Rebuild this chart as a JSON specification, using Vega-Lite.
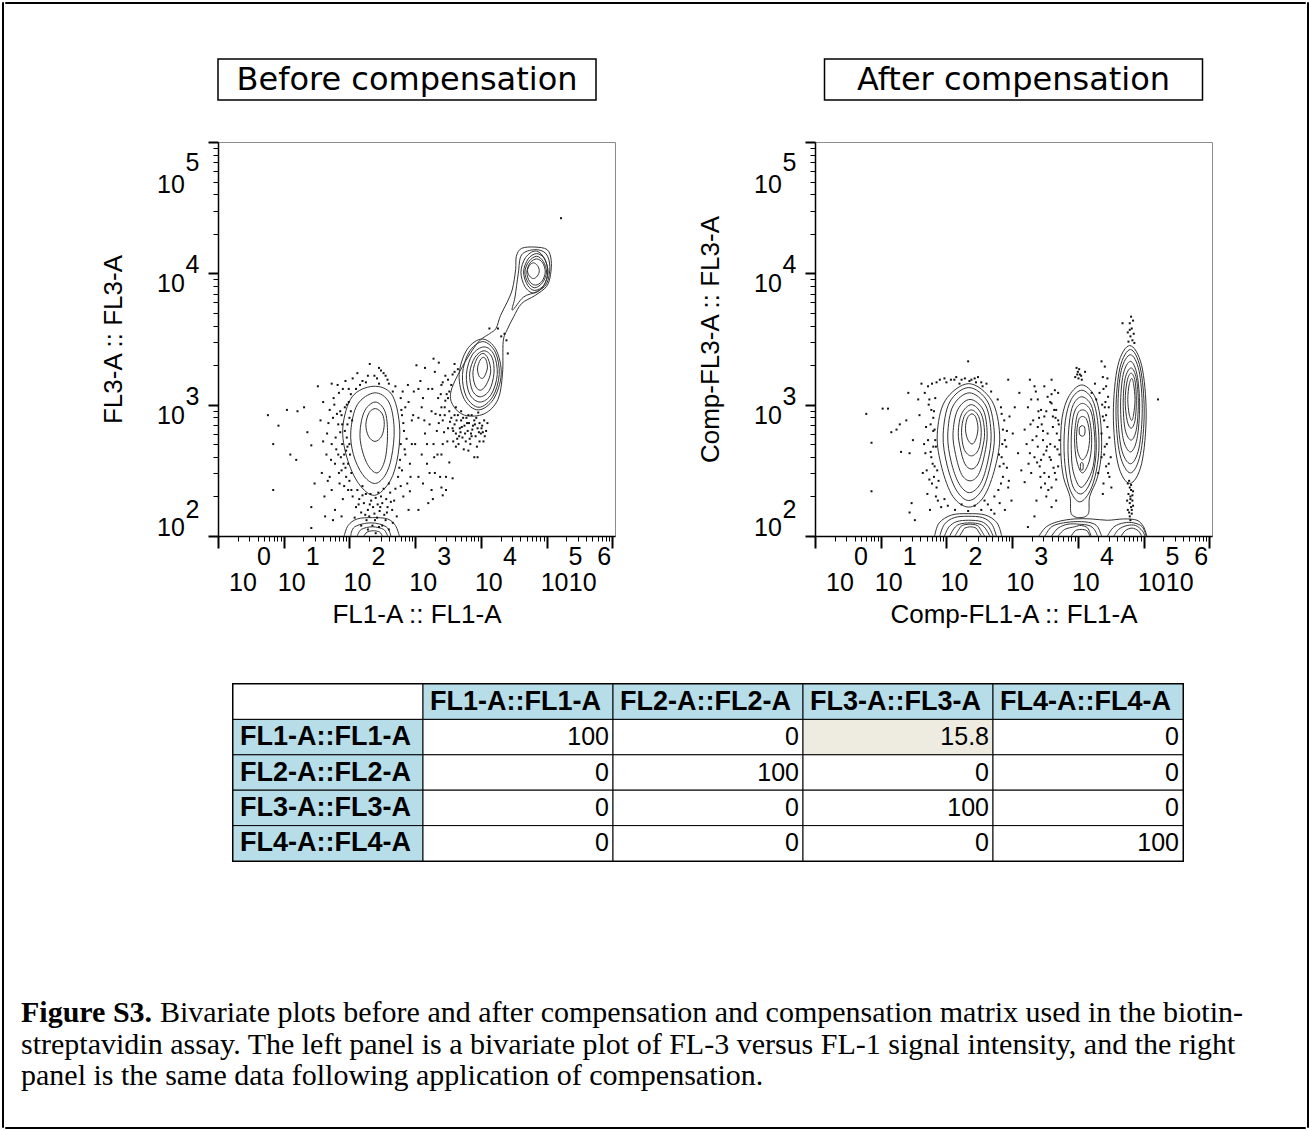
{
"$schema": "https://vega.github.io/schema/vega-lite/v6.json",
"background": "white",
"padding": {"left": 1, "top": 1, "right": 2, "bottom": 1},
"config": {"view": {"stroke": null}},
"datasets": {
"TX": [{"x":1,"y":100,"b":"10","e":"0"},{"x":10,"y":100,"b":"10","e":"1"},{"x":100,"y":100,"b":"10","e":"2"},{"x":1000,"y":100,"b":"10","e":"3"},{"x":10000,"y":100,"b":"10","e":"4"},{"x":100000,"y":100,"b":"10","e":"5"},{"x":1000000,"y":100,"b":"10","e":"6"}],
"TY": [{"x":1,"y":100,"b":"10","e":"2"},{"x":1,"y":1000,"b":"10","e":"3"},{"x":1,"y":10000,"b":"10","e":"4"},{"x":1,"y":100000,"b":"10","e":"5"}],
"LA": [
{"g":"a","o":0,"x":83.2,"y":100},{"g":"a","o":1,"x":95.5,"y":120.2},{"g":"a","o":2,"x":131.8,"y":134.9},{"g":"a","o":3,"x":223.9,"y":138},{"g":"a","o":4,"x":380.2,"y":134.9},{"g":"a","o":5,"x":501.2,"y":120.2},{"g":"a","o":6,"x":575.4,"y":100},
{"g":"b","o":0,"x":104.7,"y":100},{"g":"b","o":1,"x":120.2,"y":117.5},{"g":"b","o":2,"x":213.8,"y":125.9},{"g":"b","o":3,"x":363.1,"y":117.5},{"g":"b","o":4,"x":426.6,"y":100},
{"g":"c","o":0,"x":131.8,"y":100},{"g":"c","o":1,"x":151.4,"y":112.2},{"g":"c","o":2,"x":223.9,"y":117.5},{"g":"c","o":3,"x":331.1,"y":112.2},{"g":"c","o":4,"x":380.2,"y":100},
{"g":"d","o":0,"x":166,"y":100},{"g":"d","o":1,"x":186.2,"y":107.2},{"g":"d","o":2,"x":229.1,"y":109.6},{"g":"d","o":3,"x":288.4,"y":107.2},{"g":"d","o":4,"x":316.2,"y":100}
],
"LC": [
{"g":"1a","o":0,"x":229,"y":1380},{"g":"1a","o":1,"x":437,"y":1202},{"g":"1a","o":2,"x":575,"y":724},{"g":"1a","o":3,"x":550,"y":417},{"g":"1a","o":4,"x":417,"y":263},{"g":"1a","o":5,"x":240,"y":204},{"g":"1a","o":6,"x":138,"y":251},{"g":"1a","o":7,"x":91.2,"y":398},{"g":"1a","o":8,"x":79.4,"y":676},{"g":"1a","o":9,"x":110,"y":1148},
{"g":"1b","o":0,"x":240,"y":1230},{"g":"1b","o":1,"x":398,"y":1047},{"g":"1b","o":2,"x":479,"y":661},{"g":"1b","o":3,"x":437,"y":398},{"g":"1b","o":4,"x":347,"y":288},{"g":"1b","o":5,"x":240,"y":251},{"g":"1b","o":6,"x":158,"y":295},{"g":"1b","o":7,"x":115,"y":417},{"g":"1b","o":8,"x":105,"y":631},{"g":"1b","o":9,"x":132,"y":1000},
{"g":"1c","o":0,"x":245,"y":1047},{"g":"1c","o":1,"x":347,"y":891},{"g":"1c","o":2,"x":380,"y":603},{"g":"1c","o":3,"x":347,"y":380},{"g":"1c","o":4,"x":263,"y":302},{"g":"1c","o":5,"x":182,"y":363},{"g":"1c","o":6,"x":145,"y":562},{"g":"1c","o":7,"x":166,"y":871},
{"g":"1d","o":0,"x":251,"y":933},{"g":"1d","o":1,"x":316,"y":851},{"g":"1d","o":2,"x":339,"y":708},{"g":"1d","o":3,"x":309,"y":575},{"g":"1d","o":4,"x":245,"y":525},{"g":"1d","o":5,"x":195,"y":575},{"g":"1d","o":6,"x":178,"y":708},{"g":"1d","o":7,"x":200,"y":871},
{"g":"23","o":0,"x":5623,"y":832},{"g":"23","o":1,"x":3715,"y":1000},{"g":"23","o":2,"x":3548,"y":1288},{"g":"23","o":3,"x":5248,"y":1950},{"g":"23","o":4,"x":8913,"y":2951},{"g":"23","o":5,"x":13490,"y":3467},{"g":"23","o":6,"x":16980,"y":3802},{"g":"23","o":7,"x":19950,"y":4786},{"g":"23","o":8,"x":25120,"y":6026},{"g":"23","o":9,"x":30200,"y":7586},{"g":"23","o":10,"x":33880,"y":10720},{"g":"23","o":11,"x":34670,"y":13490},{"g":"23","o":12,"x":41690,"y":15490},{"g":"23","o":13,"x":66070,"y":15850},{"g":"23","o":14,"x":102300,"y":15140},{"g":"23","o":15,"x":117500,"y":12590},{"g":"23","o":16,"x":114800,"y":9772},{"g":"23","o":17,"x":100000,"y":7943},{"g":"23","o":18,"x":66070,"y":6761},{"g":"23","o":19,"x":41690,"y":5888},{"g":"23","o":20,"x":31620,"y":4677},{"g":"23","o":21,"x":25120,"y":3715},{"g":"23","o":22,"x":21880,"y":3020},{"g":"23","o":23,"x":21380,"y":1738},{"g":"23","o":24,"x":18200,"y":1096},{"g":"23","o":25,"x":11220,"y":851},
{"g":"2b","o":0,"x":10470,"y":3162},{"g":"2b","o":1,"x":16980,"y":2630},{"g":"2b","o":2,"x":20420,"y":1698},{"g":"2b","o":3,"x":15490,"y":1096},{"g":"2b","o":4,"x":9120,"y":912},{"g":"2b","o":5,"x":5623,"y":1096},{"g":"2b","o":6,"x":4677,"y":1698},{"g":"2b","o":7,"x":6166,"y":2630},
{"g":"2c","o":0,"x":10720,"y":3020},{"g":"2c","o":1,"x":16600,"y":2512},{"g":"2c","o":2,"x":19050,"y":1698},{"g":"2c","o":3,"x":15140,"y":1148},{"g":"2c","o":4,"x":9333,"y":955},{"g":"2c","o":5,"x":6026,"y":1148},{"g":"2c","o":6,"x":5248,"y":1698},{"g":"2c","o":7,"x":6607,"y":2512},
{"g":"2d","o":0,"x":11220,"y":2754},{"g":"2d","o":1,"x":15850,"y":2399},{"g":"2d","o":2,"x":17780,"y":1698},{"g":"2d","o":3,"x":14450,"y":1202},{"g":"2d","o":4,"x":9772,"y":1047},{"g":"2d","o":5,"x":6761,"y":1202},{"g":"2d","o":6,"x":6026,"y":1698},{"g":"2d","o":7,"x":7413,"y":2399},
{"g":"2e","o":0,"x":11220,"y":2570},{"g":"2e","o":1,"x":14790,"y":2291},{"g":"2e","o":2,"x":15850,"y":1738},{"g":"2e","o":3,"x":13490,"y":1288},{"g":"2e","o":4,"x":9772,"y":1148},{"g":"2e","o":5,"x":7413,"y":1288},{"g":"2e","o":6,"x":6761,"y":1738},{"g":"2e","o":7,"x":8128,"y":2291},
{"g":"2f","o":0,"x":10720,"y":2455},{"g":"2f","o":1,"x":12880,"y":2239},{"g":"2f","o":2,"x":14130,"y":1778},{"g":"2f","o":3,"x":12020,"y":1413},{"g":"2f","o":4,"x":9772,"y":1288},{"g":"2f","o":5,"x":8128,"y":1413},{"g":"2f","o":6,"x":7586,"y":1778},{"g":"2f","o":7,"x":8710,"y":2239},
{"g":"2g","o":0,"x":10960,"y":2291},{"g":"2g","o":1,"x":12020,"y":2188},{"g":"2g","o":2,"x":12590,"y":1905},{"g":"2g","o":3,"x":11480,"y":1660},{"g":"2g","o":4,"x":10470,"y":1585},{"g":"2g","o":5,"x":9333,"y":1660},{"g":"2g","o":6,"x":8913,"y":1905},{"g":"2g","o":7,"x":9772,"y":2188},
{"g":"3b","o":0,"x":66070,"y":15140},{"g":"3b","o":1,"x":97720,"y":14130},{"g":"3b","o":2,"x":112200,"y":11220},{"g":"3b","o":3,"x":100000,"y":8318},{"g":"3b","o":4,"x":70790,"y":7244},{"g":"3b","o":5,"x":44670,"y":6607},{"g":"3b","o":6,"x":30200,"y":5248},{"g":"3b","o":7,"x":33110,"y":6607},{"g":"3b","o":8,"x":37150,"y":10000},{"g":"3b","o":9,"x":41690,"y":13800},
{"g":"3c","o":0,"x":67610,"y":14790},{"g":"3c","o":1,"x":91200,"y":13180},{"g":"3c","o":2,"x":104700,"y":10230},{"g":"3c","o":3,"x":89130,"y":7943},{"g":"3c","o":4,"x":63100,"y":7079},{"g":"3c","o":5,"x":46770,"y":7943},{"g":"3c","o":6,"x":40740,"y":10230},{"g":"3c","o":7,"x":47860,"y":13180},
{"g":"3d","o":0,"x":70790,"y":14130},{"g":"3d","o":1,"x":93330,"y":12880},{"g":"3d","o":2,"x":104700,"y":10230},{"g":"3d","o":3,"x":91200,"y":8128},{"g":"3d","o":4,"x":66070,"y":7413},{"g":"3d","o":5,"x":51290,"y":8128},{"g":"3d","o":6,"x":44670,"y":10230},{"g":"3d","o":7,"x":52480,"y":12880},
{"g":"3e","o":0,"x":70790,"y":13490},{"g":"3e","o":1,"x":89130,"y":12300},{"g":"3e","o":2,"x":100000,"y":10230},{"g":"3e","o":3,"x":87100,"y":8511},{"g":"3e","o":4,"x":66070,"y":7762},{"g":"3e","o":5,"x":52480,"y":8511},{"g":"3e","o":6,"x":46770,"y":10230},{"g":"3e","o":7,"x":53700,"y":12300},
{"g":"3f","o":0,"x":70790,"y":12880},{"g":"3f","o":1,"x":87100,"y":12020},{"g":"3f","o":2,"x":95500,"y":10230},{"g":"3f","o":3,"x":85110,"y":8710},{"g":"3f","o":4,"x":67610,"y":8128},{"g":"3f","o":5,"x":54950,"y":8710},{"g":"3f","o":6,"x":50120,"y":10230},{"g":"3f","o":7,"x":56230,"y":12020},
{"g":"3g","o":0,"x":63100,"y":12020},{"g":"3g","o":1,"x":72440,"y":11480},{"g":"3g","o":2,"x":77620,"y":10470},{"g":"3g","o":3,"x":72440,"y":9550},{"g":"3g","o":4,"x":63100,"y":9120},{"g":"3g","o":5,"x":54950,"y":9550},{"g":"3g","o":6,"x":51290,"y":10470},{"g":"3g","o":7,"x":54950,"y":11480}
],
"LD": [
{"x":5.75,"y":832},{"x":8.32,"y":692},{"x":6.92,"y":501},{"x":6.92,"y":224},{"x":11.2,"y":912},{"x":16.2,"y":891},{"x":15.5,"y":380},{"x":26.3,"y":166},{"x":29.5,"y":251},{"x":33.1,"y":1380},{"x":22.9,"y":617},{"x":26.3,"y":490},{"x":20.4,"y":955},{"x":26.3,"y":115},{"x":12.6,"y":417},
{"x":42.7,"y":141},{"x":53.7,"y":1445},{"x":47.9,"y":724},{"x":53.7,"y":501},{"x":60.3,"y":355},{"x":53.7,"y":224},{"x":69.2,"y":1230},{"x":64.6,"y":851},{"x":72.4,"y":617},{"x":39.8,"y":1047},{"x":44.7,"y":417},{"x":38,"y":302},{"x":41.7,"y":200},{"x":50.1,"y":912},{"x":57.5,"y":1122},{"x":63.1,"y":457},{"x":75.9,"y":316},{"x":70.8,"y":251},{"x":79.4,"y":191},{"x":45.7,"y":603},{"x":79.4,"y":1318},{"x":85.1,"y":955},{"x":83.2,"y":417},{"x":60.3,"y":158},{"x":75.9,"y":141},{"x":36.3,"y":759},{"x":50.1,"y":282},{"x":67.6,"y":708},{"x":89.1,"y":282},{"x":39.8,"y":525},{"x":56.2,"y":132},{"x":66.1,"y":1413},{"x":87.1,"y":1514},{"x":75.9,"y":832},{"x":95.5,"y":224},
{"x":56.2,"y":794},{"x":61.7,"y":562},{"x":67.6,"y":417},{"x":72.4,"y":891},{"x":77.6,"y":501},{"x":81.3,"y":355},{"x":58.9,"y":1000},{"x":69.2,"y":302},{"x":52.5,"y":380},{"x":46.8,"y":263},
{"x":87.1,"y":331},{"x":93.3,"y":479},{"x":85.1,"y":631},{"x":100,"y":794},{"x":91.2,"y":1000},{"x":83.2,"y":240},{"x":107,"y":224},{"x":74.1,"y":398},{"x":77.6,"y":708},{"x":97.7,"y":1318},
{"x":112,"y":1585},{"x":132,"y":1738},{"x":158,"y":1514},{"x":191,"y":1660},{"x":204,"y":2042},{"x":263,"y":1585},{"x":302,"y":1820},{"x":355,"y":1660},{"x":398,"y":1445},{"x":282,"y":1905},{"x":331,"y":1738},{"x":145,"y":1413},{"x":501,"y":1380},{"x":603,"y":1122},{"x":631,"y":832},{"x":676,"y":631},{"x":603,"y":501},{"x":708,"y":417},{"x":631,"y":316},{"x":759,"y":251},{"x":661,"y":200},{"x":794,"y":158},{"x":891,"y":759},{"x":955,"y":1259},{"x":832,"y":355},{"x":589,"y":380},{"x":708,"y":955},{"x":550,"y":282},{"x":891,"y":501},
{"x":178,"y":1479},{"x":240,"y":1660},{"x":380,"y":1549},{"x":457,"y":1259},{"x":126,"y":1318},{"x":282,"y":1445},
{"x":661,"y":724},{"x":741,"y":550},{"x":646,"y":1259},{"x":794,"y":1047},{"x":603,"y":240},{"x":832,"y":219},
{"x":617,"y":912},{"x":692,"y":457},{"x":575,"y":331},{"x":851,"y":282},{"x":933,"y":832},{"x":776,"y":1413},
{"x":112,"y":200},{"x":126,"y":166},{"x":141,"y":191},{"x":151,"y":151},{"x":166,"y":178},{"x":178,"y":209},{"x":191,"y":158},{"x":200,"y":141},{"x":214,"y":186},{"x":229,"y":166},{"x":240,"y":148},{"x":251,"y":195},{"x":269,"y":174},{"x":288,"y":155},{"x":302,"y":200},{"x":316,"y":178},{"x":339,"y":145},{"x":363,"y":191},{"x":380,"y":166},{"x":417,"y":214},{"x":447,"y":158},{"x":479,"y":186},{"x":501,"y":229},{"x":132,"y":224},{"x":158,"y":240},{"x":398,"y":251},{"x":209,"y":209},{"x":263,"y":138},{"x":182,"y":132},{"x":355,"y":132},{"x":120,"y":138},{"x":525,"y":141},{"x":224,"y":120},{"x":282,"y":117},{"x":457,"y":126},
{"x":138,"y":174},{"x":174,"y":145},{"x":204,"y":174},{"x":245,"y":132},{"x":295,"y":166},{"x":372,"y":151},{"x":427,"y":182},{"x":158,"y":204},{"x":275,"y":214},{"x":331,"y":229},
{"x":191,"y":112},{"x":316,"y":120},{"x":251,"y":105},{"x":398,"y":112},{"x":151,"y":120},
{"x":95.5,"y":355},{"x":100,"y":501},{"x":93.3,"y":708},{"x":105,"y":891},{"x":102,"y":417},{"x":97.7,"y":1047},{"x":107,"y":302},{"x":91.2,"y":562},{"x":110,"y":759},{"x":100,"y":263},{"x":89.1,"y":447},{"x":105,"y":1202},
{"x":1047,"y":1995},{"x":1202,"y":1514},{"x":1318,"y":1122},{"x":1122,"y":794},{"x":1413,"y":603},{"x":1259,"y":417},{"x":1585,"y":1318},{"x":1778,"y":891},{"x":1660,"y":708},{"x":1905,"y":501},{"x":1995,"y":1778},{"x":2239,"y":1122},{"x":2399,"y":832},{"x":2138,"y":631},{"x":2512,"y":1413},{"x":2818,"y":955},{"x":2630,"y":759},{"x":3020,"y":1202},{"x":3162,"y":661},{"x":3311,"y":891},{"x":2884,"y":1660},{"x":1514,"y":355},{"x":1995,"y":302},{"x":1318,"y":251},{"x":1778,"y":224},{"x":2399,"y":282},{"x":1122,"y":158},{"x":1585,"y":178},{"x":2512,"y":417},{"x":1413,"y":1905},{"x":1905,"y":2239},{"x":2291,"y":2089},{"x":1000,"y":501},{"x":1122,"y":282},
{"x":1259,"y":955},{"x":1514,"y":501},{"x":1820,"y":1318},{"x":2188,"y":417},{"x":1660,"y":302},{"x":1380,"y":759},{"x":2630,"y":501},{"x":1122,"y":1318},
{"x":3548,"y":794},{"x":3981,"y":708},{"x":4169,"y":603},{"x":4467,"y":832},{"x":4786,"y":661},{"x":5012,"y":759},{"x":5248,"y":562},{"x":5623,"y":692},{"x":6026,"y":794},{"x":6310,"y":631},{"x":6607,"y":724},{"x":7079,"y":603},{"x":7586,"y":692},{"x":7943,"y":759},{"x":8318,"y":575},{"x":8913,"y":661},{"x":9550,"y":724},{"x":10000,"y":603},{"x":10470,"y":692},{"x":11220,"y":759},{"x":12020,"y":631},{"x":3802,"y":525},{"x":4571,"y":501},{"x":5495,"y":457},{"x":6918,"y":501},{"x":8710,"y":479},{"x":10960,"y":525},{"x":5012,"y":891},{"x":7244,"y":832},{"x":9120,"y":871},{"x":12590,"y":724},{"x":4169,"y":955},{"x":3162,"y":1122},{"x":3548,"y":1413},{"x":3981,"y":1778},
{"x":3802,"y":631},{"x":4266,"y":759},{"x":4677,"y":575},{"x":5129,"y":676},{"x":5754,"y":603},{"x":6166,"y":724},{"x":6761,"y":550},{"x":7413,"y":646},{"x":8128,"y":708},{"x":9333,"y":617},{"x":10230,"y":661},{"x":11480,"y":575},{"x":3388,"y":741},{"x":2818,"y":832},{"x":2512,"y":955},{"x":2291,"y":724},{"x":2042,"y":851},{"x":2754,"y":617},{"x":3090,"y":525},{"x":4169,"y":479},{"x":6457,"y":447},{"x":9550,"y":525},{"x":3311,"y":1259},{"x":2884,"y":1072},{"x":2455,"y":1202},
{"x":3981,"y":832},{"x":4898,"y":617},{"x":5888,"y":525},{"x":7244,"y":575},{"x":8511,"y":794},{"x":10720,"y":617},{"x":3715,"y":661},{"x":5370,"y":794},{"x":6457,"y":832},{"x":4365,"y":550},
{"x":1950,"y":398},{"x":7943,"y":398},{"x":8913,"y":398},{"x":2951,"y":282},{"x":3715,"y":275},{"x":3311,"y":363},{"x":2512,"y":234},{"x":2630,"y":204},{"x":1862,"y":191},{"x":2951,"y":224},{"x":13490,"y":3802},{"x":22910,"y":3467},{"x":24550,"y":3090},{"x":25700,"y":2455},{"x":20420,"y":3311},{"x":18200,"y":3802},{"x":3981,"y":2042},{"x":4467,"y":1862},{"x":3162,"y":1549},{"x":3715,"y":1698},{"x":2630,"y":1479},{"x":166000,"y":26300}
],
"RA": [
{"g":"0a","o":0,"x":66.07,"y":100},{"g":"0a","o":1,"x":77.62,"y":125.9},{"g":"0a","o":2,"x":120.2,"y":144.5},{"g":"0a","o":3,"x":213.8,"y":147.9},{"g":"0a","o":4,"x":389,"y":144.5},{"g":"0a","o":5,"x":588.8,"y":125.9},{"g":"0a","o":6,"x":691.8,"y":100},
{"g":"0b","o":0,"x":79.43,"y":100},{"g":"0b","o":1,"x":93.33,"y":123},{"g":"0b","o":2,"x":131.8,"y":138},{"g":"0b","o":3,"x":213.8,"y":141.3},{"g":"0b","o":4,"x":354.8,"y":138},{"g":"0b","o":5,"x":489.8,"y":123},{"g":"0b","o":6,"x":575.4,"y":100},
{"g":"0c","o":0,"x":93.33,"y":100},{"g":"0c","o":1,"x":109.6,"y":117.5},{"g":"0c","o":2,"x":144.5,"y":128.8},{"g":"0c","o":3,"x":218.8,"y":131.8},{"g":"0c","o":4,"x":338.8,"y":128.8},{"g":"0c","o":5,"x":436.5,"y":117.5},{"g":"0c","o":6,"x":512.9,"y":100},
{"g":"0d","o":0,"x":112.2,"y":100},{"g":"0d","o":1,"x":131.8,"y":114.8},{"g":"0d","o":2,"x":158.5,"y":123},{"g":"0d","o":3,"x":229.1,"y":125.9},{"g":"0d","o":4,"x":323.6,"y":123},{"g":"0d","o":5,"x":389,"y":114.8},{"g":"0d","o":6,"x":457.1,"y":100},
{"g":"0e","o":0,"x":134.9,"y":100},{"g":"0e","o":1,"x":154.9,"y":112.2},{"g":"0e","o":2,"x":173.8,"y":120.2},{"g":"0e","o":3,"x":229.1,"y":123},{"g":"0e","o":4,"x":295.1,"y":120.2},{"g":"0e","o":5,"x":331.1,"y":112.2},{"g":"0e","o":6,"x":380.2,"y":100},
{"g":"0f","o":0,"x":158.5,"y":100},{"g":"0f","o":1,"x":177.8,"y":109.6},{"g":"0f","o":2,"x":190.5,"y":114.8},{"g":"0f","o":3,"x":234.4,"y":117.5},{"g":"0f","o":4,"x":281.8,"y":114.8},{"g":"0f","o":5,"x":302,"y":109.6},{"g":"0f","o":6,"x":338.8,"y":100},
{"g":"Ba","o":0,"x":2570,"y":100},{"g":"Ba","o":1,"x":3311,"y":117.5},{"g":"Ba","o":2,"x":5012,"y":128.8},{"g":"Ba","o":3,"x":8913,"y":134.9},{"g":"Ba","o":4,"x":15850,"y":134.9},{"g":"Ba","o":5,"x":28180,"y":131.8},{"g":"Ba","o":6,"x":50120,"y":134.9},{"g":"Ba","o":7,"x":79430,"y":131.8},{"g":"Ba","o":8,"x":100000,"y":117.5},{"g":"Ba","o":9,"x":112200,"y":100},
{"g":"Bb","o":0,"x":3162,"y":100},{"g":"Bb","o":1,"x":3981,"y":117.5},{"g":"Bb","o":2,"x":6026,"y":125.9},{"g":"Bb","o":3,"x":10000,"y":128.8},{"g":"Bb","o":4,"x":15850,"y":125.9},{"g":"Bb","o":5,"x":19950,"y":117.5},{"g":"Bb","o":6,"x":22910,"y":100},
{"g":"Bc","o":0,"x":3981,"y":100},{"g":"Bc","o":1,"x":5012,"y":114.8},{"g":"Bc","o":2,"x":7079,"y":123},{"g":"Bc","o":3,"x":10470,"y":123},{"g":"Bc","o":4,"x":14790,"y":120.2},{"g":"Bc","o":5,"x":17780,"y":112.2},{"g":"Bc","o":6,"x":19950,"y":100},
{"g":"Bd","o":0,"x":5012,"y":100},{"g":"Bd","o":1,"x":6310,"y":112.2},{"g":"Bd","o":2,"x":8913,"y":117.5},{"g":"Bd","o":3,"x":11220,"y":120.2},{"g":"Bd","o":4,"x":14130,"y":114.8},{"g":"Bd","o":5,"x":15850,"y":100},
{"g":"Be","o":0,"x":7943,"y":100},{"g":"Be","o":1,"x":9120,"y":109.6},{"g":"Be","o":2,"x":11220,"y":112.2},{"g":"Be","o":3,"x":13800,"y":109.6},{"g":"Be","o":4,"x":15140,"y":100},
{"g":"Bf","o":0,"x":28180,"y":100},{"g":"Bf","o":1,"x":35480,"y":117.5},{"g":"Bf","o":2,"x":50120,"y":125.9},{"g":"Bf","o":3,"x":70790,"y":125.9},{"g":"Bf","o":4,"x":95500,"y":117.5},{"g":"Bf","o":5,"x":109600,"y":100},
{"g":"Bg","o":0,"x":35480,"y":100},{"g":"Bg","o":1,"x":41690,"y":112.2},{"g":"Bg","o":2,"x":56230,"y":120.2},{"g":"Bg","o":3,"x":75860,"y":120.2},{"g":"Bg","o":4,"x":95500,"y":109.6},{"g":"Bg","o":5,"x":104700,"y":100},
{"g":"Bh","o":0,"x":45710,"y":100},{"g":"Bh","o":1,"x":52480,"y":109.6},{"g":"Bh","o":2,"x":66070,"y":114.8},{"g":"Bh","o":3,"x":83180,"y":109.6},{"g":"Bh","o":4,"x":93330,"y":100}
],
"RC": [
{"g":"1a","o":0,"x":218.8,"y":1445},{"g":"1a","o":1,"x":489.8,"y":1072},{"g":"1a","o":2,"x":645.7,"y":588.8},{"g":"1a","o":3,"x":549.5,"y":331.1},{"g":"1a","o":4,"x":371.5,"y":199.5},{"g":"1a","o":5,"x":218.8,"y":166},{"g":"1a","o":6,"x":125.9,"y":199.5},{"g":"1a","o":7,"x":85.1,"y":331.1},{"g":"1a","o":8,"x":72.4,"y":588.8},{"g":"1a","o":9,"x":95.5,"y":1072},
{"g":"1b","o":0,"x":218.8,"y":1349},{"g":"1b","o":1,"x":426.6,"y":1047},{"g":"1b","o":2,"x":537,"y":588.8},{"g":"1b","o":3,"x":467.7,"y":346.7},{"g":"1b","o":4,"x":346.7,"y":223.9},{"g":"1b","o":5,"x":218.8,"y":186.2},{"g":"1b","o":6,"x":141.3,"y":223.9},{"g":"1b","o":7,"x":102.3,"y":346.7},{"g":"1b","o":8,"x":89.1,"y":588.8},{"g":"1b","o":9,"x":112.2,"y":1047},
{"g":"1c","o":0,"x":223.9,"y":1230},{"g":"1c","o":1,"x":398.1,"y":977.2},{"g":"1c","o":2,"x":478.6,"y":588.8},{"g":"1c","o":3,"x":426.6,"y":371.5},{"g":"1c","o":4,"x":331.1,"y":251.2},{"g":"1c","o":5,"x":223.9,"y":213.8},{"g":"1c","o":6,"x":154.9,"y":251.2},{"g":"1c","o":7,"x":117.5,"y":371.5},{"g":"1c","o":8,"x":104.7,"y":588.8},{"g":"1c","o":9,"x":125.9,"y":977.2},
{"g":"1d","o":0,"x":229.1,"y":1096},{"g":"1d","o":1,"x":363.1,"y":912},{"g":"1d","o":2,"x":416.9,"y":602.6},{"g":"1d","o":3,"x":380.2,"y":416.9},{"g":"1d","o":4,"x":309,"y":295.1},{"g":"1d","o":5,"x":229.1,"y":263},{"g":"1d","o":6,"x":169.8,"y":295.1},{"g":"1d","o":7,"x":138,"y":416.9},{"g":"1d","o":8,"x":125.9,"y":602.6},{"g":"1d","o":9,"x":147.9,"y":912},
{"g":"1e","o":0,"x":239.9,"y":1000},{"g":"1e","o":1,"x":338.8,"y":851.1},{"g":"1e","o":2,"x":380.2,"y":616.6},{"g":"1e","o":3,"x":354.8,"y":467.7},{"g":"1e","o":4,"x":302,"y":354.8},{"g":"1e","o":5,"x":239.9,"y":323.6},{"g":"1e","o":6,"x":190.5,"y":354.8},{"g":"1e","o":7,"x":162.2,"y":467.7},{"g":"1e","o":8,"x":151.4,"y":616.6},{"g":"1e","o":9,"x":169.8,"y":851.1},
{"g":"1f","o":0,"x":239.9,"y":912},{"g":"1f","o":1,"x":309,"y":812.8},{"g":"1f","o":2,"x":338.8,"y":616.6},{"g":"1f","o":3,"x":309,"y":457.1},{"g":"1f","o":4,"x":239.9,"y":407.4},{"g":"1f","o":5,"x":186.2,"y":457.1},{"g":"1f","o":6,"x":169.8,"y":616.6},{"g":"1f","o":7,"x":186.2,"y":812.8},
{"g":"1g","o":0,"x":245.5,"y":851.1},{"g":"1g","o":1,"x":281.8,"y":794.3},{"g":"1g","o":2,"x":302,"y":660.7},{"g":"1g","o":3,"x":281.8,"y":549.5},{"g":"1g","o":4,"x":245.5,"y":501.2},{"g":"1g","o":5,"x":208.9,"y":549.5},{"g":"1g","o":6,"x":195,"y":660.7},{"g":"1g","o":7,"x":208.9,"y":794.3},
{"g":"2a","o":0,"x":11480,"y":1413},{"g":"2a","o":1,"x":17780,"y":1175},{"g":"2a","o":2,"x":21880,"y":794.3},{"g":"2a","o":3,"x":22910,"y":446.7},{"g":"2a","o":4,"x":19950,"y":281.8},{"g":"2a","o":5,"x":15140,"y":199.5},{"g":"2a","o":6,"x":14450,"y":147.9},{"g":"2a","o":7,"x":10720,"y":138},{"g":"2a","o":8,"x":7943,"y":147.9},{"g":"2a","o":9,"x":7586,"y":199.5},{"g":"2a","o":10,"x":6026,"y":281.8},{"g":"2a","o":11,"x":5495,"y":446.7},{"g":"2a","o":12,"x":5754,"y":794.3},{"g":"2a","o":13,"x":7413,"y":1175},
{"g":"2b","o":0,"x":11480,"y":1288},{"g":"2b","o":1,"x":16600,"y":1096},{"g":"2b","o":2,"x":19950,"y":758.6},{"g":"2b","o":3,"x":20890,"y":446.7},{"g":"2b","o":4,"x":18200,"y":281.8},{"g":"2b","o":5,"x":14450,"y":208.9},{"g":"2b","o":6,"x":10720,"y":182},{"g":"2b","o":7,"x":8128,"y":208.9},{"g":"2b","o":8,"x":6761,"y":281.8},{"g":"2b","o":9,"x":6166,"y":446.7},{"g":"2b","o":10,"x":6457,"y":758.6},{"g":"2b","o":11,"x":7943,"y":1096},
{"g":"2c","o":0,"x":11480,"y":1148},{"g":"2c","o":1,"x":15850,"y":1000},{"g":"2c","o":2,"x":18200,"y":724.4},{"g":"2c","o":3,"x":19050,"y":446.7},{"g":"2c","o":4,"x":16980,"y":295.1},{"g":"2c","o":5,"x":13800,"y":229.1},{"g":"2c","o":6,"x":10960,"y":208.9},{"g":"2c","o":7,"x":8710,"y":229.1},{"g":"2c","o":8,"x":7586,"y":295.1},{"g":"2c","o":9,"x":7079,"y":446.7},{"g":"2c","o":10,"x":7413,"y":724.4},{"g":"2c","o":11,"x":8511,"y":1000},
{"g":"2d","o":0,"x":11750,"y":1023},{"g":"2d","o":1,"x":15490,"y":912},{"g":"2d","o":2,"x":17380,"y":691.8},{"g":"2d","o":3,"x":18200,"y":457.1},{"g":"2d","o":4,"x":16220,"y":309},{"g":"2d","o":5,"x":11220,"y":234.4},{"g":"2d","o":6,"x":8511,"y":309},{"g":"2d","o":7,"x":7943,"y":457.1},{"g":"2d","o":8,"x":8128,"y":691.8},{"g":"2d","o":9,"x":9120,"y":912},
{"g":"2e","o":0,"x":11750,"y":912},{"g":"2e","o":1,"x":14450,"y":831.8},{"g":"2e","o":2,"x":16220,"y":562.3},{"g":"2e","o":3,"x":15140,"y":380.2},{"g":"2e","o":4,"x":11750,"y":302},{"g":"2e","o":5,"x":9550,"y":380.2},{"g":"2e","o":6,"x":8913,"y":562.3},{"g":"2e","o":7,"x":9772,"y":831.8},
{"g":"2f","o":0,"x":11750,"y":812.8},{"g":"2f","o":1,"x":13800,"y":758.6},{"g":"2f","o":2,"x":15140,"y":575.4},{"g":"2f","o":3,"x":14130,"y":436.5},{"g":"2f","o":4,"x":11750,"y":380.2},{"g":"2f","o":5,"x":10000,"y":436.5},{"g":"2f","o":6,"x":9550,"y":575.4},{"g":"2f","o":7,"x":10230,"y":758.6},
{"g":"2g","o":0,"x":11750,"y":691.8},{"g":"2g","o":1,"x":12590,"y":676.1},{"g":"2g","o":2,"x":12880,"y":631},{"g":"2g","o":3,"x":12590,"y":588.8},{"g":"2g","o":4,"x":11750,"y":575.4},{"g":"2g","o":5,"x":10720,"y":588.8},{"g":"2g","o":6,"x":10470,"y":631},{"g":"2g","o":7,"x":10720,"y":676.1},
{"g":"2h","o":0,"x":11480,"y":363.1},{"g":"2h","o":1,"x":12020,"y":354.8},{"g":"2h","o":2,"x":12020,"y":338.8},{"g":"2h","o":3,"x":12020,"y":323.6},{"g":"2h","o":4,"x":11480,"y":316.2},{"g":"2h","o":5,"x":10960,"y":323.6},{"g":"2h","o":6,"x":10960,"y":338.8},{"g":"2h","o":7,"x":10960,"y":354.8},
{"g":"3a","o":0,"x":61660,"y":2818},{"g":"3a","o":1,"x":93330,"y":1995},{"g":"3a","o":2,"x":109600,"y":851.1},{"g":"3a","o":3,"x":93330,"y":354.8},{"g":"3a","o":4,"x":61660,"y":251.2},{"g":"3a","o":5,"x":40740,"y":354.8},{"g":"3a","o":6,"x":34670,"y":851.1},{"g":"3a","o":7,"x":40740,"y":1995},
{"g":"3b","o":0,"x":63100,"y":2630},{"g":"3b","o":1,"x":89130,"y":1905},{"g":"3b","o":2,"x":102300,"y":891.3},{"g":"3b","o":3,"x":89130,"y":416.9},{"g":"3b","o":4,"x":63100,"y":302},{"g":"3b","o":5,"x":43650,"y":416.9},{"g":"3b","o":6,"x":38020,"y":891.3},{"g":"3b","o":7,"x":43650,"y":1905},
{"g":"3c","o":0,"x":63100,"y":2399},{"g":"3c","o":1,"x":85110,"y":1820},{"g":"3c","o":2,"x":95500,"y":933.3},{"g":"3c","o":3,"x":85110,"y":467.7},{"g":"3c","o":4,"x":63100,"y":354.8},{"g":"3c","o":5,"x":45710,"y":467.7},{"g":"3c","o":6,"x":40740,"y":933.3},{"g":"3c","o":7,"x":45710,"y":1820},
{"g":"3d","o":0,"x":63100,"y":2138},{"g":"3d","o":1,"x":79430,"y":1698},{"g":"3d","o":2,"x":87100,"y":977.2},{"g":"3d","o":3,"x":79430,"y":549.5},{"g":"3d","o":4,"x":63100,"y":436.5},{"g":"3d","o":5,"x":48980,"y":549.5},{"g":"3d","o":6,"x":44670,"y":977.2},{"g":"3d","o":7,"x":48980,"y":1698},
{"g":"3e","o":0,"x":64570,"y":1905},{"g":"3e","o":1,"x":77620,"y":1585},{"g":"3e","o":2,"x":83180,"y":1023},{"g":"3e","o":3,"x":77620,"y":645.7},{"g":"3e","o":4,"x":64570,"y":537},{"g":"3e","o":5,"x":52480,"y":645.7},{"g":"3e","o":6,"x":48980,"y":1023},{"g":"3e","o":7,"x":52480,"y":1585},
{"g":"3f","o":0,"x":64570,"y":1738},{"g":"3f","o":1,"x":74130,"y":1514},{"g":"3f","o":2,"x":77620,"y":1072},{"g":"3f","o":3,"x":74130,"y":758.6},{"g":"3f","o":4,"x":64570,"y":660.7},{"g":"3f","o":5,"x":56230,"y":758.6},{"g":"3f","o":6,"x":52480,"y":1072},{"g":"3f","o":7,"x":56230,"y":1514},
{"g":"3g","o":0,"x":66070,"y":1585},{"g":"3g","o":1,"x":70790,"y":1413},{"g":"3g","o":2,"x":74130,"y":1096},{"g":"3g","o":3,"x":70790,"y":851.1},{"g":"3g","o":4,"x":66070,"y":758.6},{"g":"3g","o":5,"x":60260,"y":851.1},{"g":"3g","o":6,"x":57540,"y":1096},{"g":"3g","o":7,"x":60260,"y":1413}
],
"RD": [
{"x":6.03,"y":851},{"x":7.24,"y":513},{"x":7.24,"y":219},{"x":10.7,"y":933},{"x":12.9,"y":933},{"x":14.5,"y":617},{"x":17.4,"y":646},{"x":19.5,"y":708},{"x":20.4,"y":437},{"x":26.3,"y":1230},{"x":27.5,"y":427},{"x":27.5,"y":151},{"x":33.1,"y":132},{"x":30.9,"y":537},{"x":37.2,"y":1096},{"x":38.9,"y":832},{"x":41.7,"y":1445},{"x":43.7,"y":302},{"x":29.5,"y":178},{"x":24.5,"y":759},
{"x":46.8,"y":1230},{"x":52.5,"y":1380},{"x":55,"y":1096},{"x":58.9,"y":912},{"x":63.1,"y":794},{"x":66.1,"y":646},{"x":67.6,"y":537},{"x":63.1,"y":479},{"x":58.9,"y":398},{"x":66.1,"y":339},{"x":64.6,"y":282},{"x":70.8,"y":234},{"x":74.1,"y":186},{"x":49,"y":676},{"x":52.5,"y":537},{"x":47.9,"y":427},{"x":55,"y":269},{"x":51.3,"y":209},{"x":60.3,"y":1445},{"x":70.8,"y":1479},{"x":79.4,"y":1549},{"x":93.3,"y":1585},{"x":117,"y":1549},{"x":141,"y":1622},{"x":170,"y":1549},{"x":214,"y":2138},{"x":240,"y":1549},{"x":269,"y":1585},{"x":302,"y":1622},{"x":191,"y":1585},{"x":339,"y":1479},{"x":407,"y":1445},
{"x":57.5,"y":708},{"x":61.7,"y":355},{"x":69.2,"y":200},{"x":53.7,"y":1000},{"x":45.7,"y":501},{"x":64.6,"y":891},{"x":60.3,"y":251},{"x":50.1,"y":316},
{"x":69.2,"y":479},{"x":63.1,"y":631},{"x":72.4,"y":316},{"x":57.5,"y":437},{"x":67.6,"y":1122},{"x":56.2,"y":158},{"x":75.9,"y":263},
{"x":100,"y":1479},{"x":132,"y":1549},{"x":158,"y":1445},{"x":224,"y":1514},{"x":282,"y":1479},{"x":355,"y":1380},{"x":479,"y":1259},
{"x":603,"y":1096},{"x":692,"y":851},{"x":724,"y":646},{"x":776,"y":537},{"x":813,"y":479},{"x":692,"y":398},{"x":646,"y":339},{"x":724,"y":282},{"x":871,"y":234},{"x":977,"y":186},{"x":776,"y":158},{"x":912,"y":813},{"x":1096,"y":955},{"x":1023,"y":603},{"x":1230,"y":427},{"x":1380,"y":316},{"x":1549,"y":257},{"x":1288,"y":1230},{"x":1549,"y":646},{"x":1738,"y":117},{"x":646,"y":178},{"x":537,"y":148},{"x":871,"y":1549},
{"x":708,"y":501},{"x":832,"y":331},{"x":759,"y":759},{"x":891,"y":263},{"x":617,"y":224},
{"x":676,"y":955},{"x":631,"y":417},{"x":741,"y":355},{"x":832,"y":631},{"x":676,"y":251},
{"x":83.2,"y":166},{"x":105,"y":170},{"x":135,"y":158},{"x":170,"y":174},{"x":214,"y":155},{"x":269,"y":170},{"x":339,"y":158},{"x":427,"y":174},{"x":479,"y":158},{"x":380,"y":186},{"x":93.3,"y":191},{"x":537,"y":200},
{"x":1862,"y":1549},{"x":2188,"y":1380},{"x":2455,"y":1096},{"x":2754,"y":912},{"x":3090,"y":813},{"x":3467,"y":1148},{"x":3981,"y":1023},{"x":4467,"y":1288},{"x":4677,"y":912},{"x":5012,"y":759},{"x":4169,"y":676},{"x":3467,"y":603},{"x":2951,"y":537},{"x":2455,"y":479},{"x":2188,"y":398},{"x":2630,"y":339},{"x":3090,"y":302},{"x":3715,"y":398},{"x":4467,"y":479},{"x":5012,"y":339},{"x":4677,"y":269},{"x":3981,"y":234},{"x":3311,"y":200},{"x":2754,"y":234},{"x":2344,"y":186},{"x":1950,"y":302},{"x":2089,"y":759},{"x":1738,"y":955},{"x":1660,"y":501},{"x":1862,"y":427},{"x":2455,"y":676},{"x":3090,"y":1380},{"x":3981,"y":1549},{"x":5012,"y":1230},{"x":4169,"y":813},{"x":3311,"y":447},{"x":2754,"y":380},{"x":2344,"y":575},{"x":1950,"y":1096},{"x":4677,"y":186},{"x":3981,"y":166},{"x":5248,"y":537},{"x":4467,"y":302},{"x":2188,"y":141},
{"x":2818,"y":708},{"x":3311,"y":891},{"x":3802,"y":501},{"x":4266,"y":331},{"x":3631,"y":282},{"x":3020,"y":417},{"x":2570,"y":794},{"x":2291,"y":1259},{"x":1905,"y":708},{"x":1778,"y":355},{"x":4786,"y":603},{"x":5248,"y":417},{"x":4571,"y":794},{"x":3981,"y":1202},{"x":3548,"y":224},
{"x":2512,"y":891},{"x":2951,"y":631},{"x":3388,"y":479},{"x":3890,"y":380},{"x":4365,"y":912},{"x":5129,"y":708},{"x":4898,"y":457},{"x":3802,"y":1047},{"x":3162,"y":251},{"x":2692,"y":282},{"x":2042,"y":537},{"x":2399,"y":363},
{"x":9550,"y":1905},{"x":10000,"y":1778},{"x":10720,"y":1698},{"x":10230,"y":1585},{"x":11480,"y":1549},{"x":9120,"y":1622},{"x":12880,"y":1778},{"x":10470,"y":1862},{"x":11220,"y":1660},{"x":9772,"y":1698},
{"x":22910,"y":2138},{"x":25700,"y":1950},{"x":23990,"y":1622},{"x":26920,"y":1380},{"x":28840,"y":1148},{"x":25700,"y":955},{"x":23990,"y":813},{"x":28180,"y":676},{"x":30200,"y":562},{"x":25700,"y":479},{"x":22910,"y":398},{"x":26920,"y":339},{"x":30200,"y":282},{"x":32360,"y":234},{"x":21380,"y":1230},{"x":22910,"y":603},{"x":29510,"y":955},{"x":31620,"y":398},{"x":20420,"y":302},{"x":23990,"y":209},{"x":18200,"y":1445},{"x":19050,"y":1096},{"x":16220,"y":1230},
{"x":25120,"y":759},{"x":27540,"y":501},{"x":28840,"y":302},{"x":24550,"y":251},{"x":26300,"y":1047},{"x":28180,"y":1585},
{"x":23440,"y":1000},{"x":26920,"y":832},{"x":25120,"y":417},{"x":29510,"y":355},{"x":24550,"y":1318},
{"x":57540,"y":251},{"x":61660,"y":234},{"x":64570,"y":224},{"x":58880,"y":209},{"x":63100,"y":200},{"x":67610,"y":186},{"x":61660,"y":178},{"x":64570,"y":166},{"x":57540,"y":158},{"x":66070,"y":148},{"x":61660,"y":141},{"x":69180,"y":219},{"x":56230,"y":186},{"x":64570,"y":245},{"x":60260,"y":151},{"x":69180,"y":170},{"x":63100,"y":191},{"x":60260,"y":263},{"x":66070,"y":158},{"x":63100,"y":132},{"x":67610,"y":204},
{"x":64570,"y":4677},{"x":69180,"y":4365},{"x":61660,"y":4169},{"x":66070,"y":3802},{"x":57540,"y":3548},{"x":70790,"y":3467},{"x":63100,"y":3311},{"x":67610,"y":3090},{"x":58880,"y":3020},{"x":47860,"y":4169},{"x":72440,"y":2951},{"x":61660,"y":3715},{"x":166000,"y":1096}
],
"TB": [
{"r":"h","c":"c0","k":"corner","t":""},{"r":"h","c":"c1","k":"head","t":"FL1-A::FL1-A"},{"r":"h","c":"c2","k":"head","t":"FL2-A::FL2-A"},{"r":"h","c":"c3","k":"head","t":"FL3-A::FL3-A"},{"r":"h","c":"c4","k":"head","t":"FL4-A::FL4-A"},
{"r":"r1","c":"c0","k":"head","t":"FL1-A::FL1-A"},{"r":"r1","c":"c1","k":"val","t":"100"},{"r":"r1","c":"c2","k":"val","t":"0"},{"r":"r1","c":"c3","k":"hi","t":"15.8"},{"r":"r1","c":"c4","k":"val","t":"0"},
{"r":"r2","c":"c0","k":"head","t":"FL2-A::FL2-A"},{"r":"r2","c":"c1","k":"val","t":"0"},{"r":"r2","c":"c2","k":"val","t":"100"},{"r":"r2","c":"c3","k":"val","t":"0"},{"r":"r2","c":"c4","k":"val","t":"0"},
{"r":"r3","c":"c0","k":"head","t":"FL3-A::FL3-A"},{"r":"r3","c":"c1","k":"val","t":"0"},{"r":"r3","c":"c2","k":"val","t":"0"},{"r":"r3","c":"c3","k":"val","t":"100"},{"r":"r3","c":"c4","k":"val","t":"0"},
{"r":"r4","c":"c0","k":"head","t":"FL4-A::FL4-A"},{"r":"r4","c":"c1","k":"val","t":"0"},{"r":"r4","c":"c2","k":"val","t":"0"},{"r":"r4","c":"c3","k":"val","t":"0"},{"r":"r4","c":"c4","k":"val","t":"100"}
],
"CAP": [
{"ln":1,"w":"b","t":"Figure S3."},
{"ln":1,"w":"n1","t":"Bivariate plots before and after compensation and compensation matrix used in the biotin-"},
{"ln":2,"w":"n","t":"streptavidin assay. The left panel is a bivariate plot of FL-3 versus FL-1 signal intensity, and the right"},
{"ln":3,"w":"n","t":"panel is the same data following application of compensation."}
]
},
"hconcat": [
{"width": 1, "height": 1125, "view": {"stroke": "black", "strokeWidth": 1}, "data": {"values": [{"s": 0}]}, "mark": {"type": "point", "opacity": 0, "size": 0}, "encoding": {}},
{
"vconcat": [
{"width": 1300, "height": 1, "view": {"stroke": "black", "strokeWidth": 1}, "data": {"values": [{"s": 0}]}, "mark": {"type": "point", "opacity": 0, "size": 0}, "encoding": {}},
{
"hconcat": [
{"width": 94, "height": 1, "data": {"values": [{"s": 0}]}, "mark": {"type": "point", "opacity": 0, "size": 0}, "encoding": {}},
{
"hconcat": [
{
"vconcat": [
{"width": 378, "height": 41, "view": {"stroke": "black", "strokeWidth": 1.5},
 "data": {"values": [{"t": "Before compensation"}]},
 "mark": {"type": "text", "font": "DejaVu Sans", "fontSize": 32, "color": "black", "align": "center", "baseline": "middle"},
 "encoding": {"text": {"field": "t", "type": "nominal"}}},
{"width": 397, "height": 394, "view": {"stroke": "#8c8c8c", "strokeWidth": 1},
 "encoding": {
  "x": {"field": "x", "type": "quantitative", "scale": {"type": "log", "domain": [1, 1100000], "nice": false},
   "axis": {"title": "FL1-A :: FL1-A", "grid": false, "labels": false, "domainColor": "black", "domainWidth": 1.5, "tickColor": "black",
    "tickSize": {"condition": {"test": "abs(log(datum.value)/LN10-round(log(datum.value)/LN10))<0.001", "value": 12}, "value": 5},
    "tickWidth": {"condition": {"test": "abs(log(datum.value)/LN10-round(log(datum.value)/LN10))<0.001", "value": 2}, "value": 1},
    "titleFont": "Liberation Sans", "titleFontSize": 26, "titleFontWeight": "normal", "titleColor": "black", "titlePadding": 52}},
  "y": {"field": "y", "type": "quantitative", "scale": {"type": "log", "domain": [100, 100000], "nice": false},
   "axis": {"title": "FL3-A :: FL3-A", "grid": false, "labels": false, "domainColor": "black", "domainWidth": 1.5, "tickColor": "black",
    "tickSize": {"condition": {"test": "abs(log(datum.value)/LN10-round(log(datum.value)/LN10))<0.001", "value": 10}, "value": 5},
    "tickWidth": {"condition": {"test": "abs(log(datum.value)/LN10-round(log(datum.value)/LN10))<0.001", "value": 2}, "value": 1},
    "titleFont": "Liberation Sans", "titleFontSize": 26, "titleFontWeight": "normal", "titleColor": "black", "titlePadding": 81}}
 },
 "layer": [
  {"data": {"name": "LA"}, "mark": {"type": "line", "interpolate": "cardinal", "stroke": "#333333", "strokeWidth": 1, "clip": true},
   "encoding": {"detail": {"field": "g", "type": "nominal"}, "order": {"field": "o", "type": "quantitative"}}},
  {"data": {"name": "LC"}, "mark": {"type": "line", "interpolate": "cardinal-closed", "stroke": "#333333", "strokeWidth": 1, "clip": true},
   "encoding": {"detail": {"field": "g", "type": "nominal"}, "order": {"field": "o", "type": "quantitative"}}},
  {"data": {"name": "LD"}, "mark": {"type": "square", "size": 4, "color": "#111111", "opacity": 1, "clip": true}, "encoding": {}},
  {"data": {"name": "TX"}, "transform": [{"filter": "datum.x>5 && datum.x<500000"}], "mark": {"type": "text", "dx": 8, "dy": 47, "align": "center", "baseline": "middle", "font": "Liberation Sans", "fontSize": 25, "color": "black"}, "encoding": {"text": {"field": "b", "type": "nominal"}}},
  {"data": {"name": "TX"}, "transform": [{"filter": "datum.x<5"}], "mark": {"type": "text", "dx": 25, "dy": 47, "align": "center", "baseline": "middle", "font": "Liberation Sans", "fontSize": 25, "color": "black"}, "encoding": {"text": {"field": "b", "type": "nominal"}}},
  {"data": {"name": "TX"}, "transform": [{"filter": "datum.x>500000"}], "mark": {"type": "text", "dx": -29.5, "dy": 47, "align": "center", "baseline": "middle", "font": "Liberation Sans", "fontSize": 25, "color": "black"}, "encoding": {"text": {"field": "b", "type": "nominal"}}},
  {"data": {"name": "TX"}, "transform": [{"filter": "datum.x>5 && datum.x<500000"}], "mark": {"type": "text", "dx": 29, "dy": 21, "align": "center", "baseline": "middle", "font": "Liberation Sans", "fontSize": 25, "color": "black"}, "encoding": {"text": {"field": "e", "type": "nominal"}}},
  {"data": {"name": "TX"}, "transform": [{"filter": "datum.x<5"}], "mark": {"type": "text", "dx": 46, "dy": 21, "align": "center", "baseline": "middle", "font": "Liberation Sans", "fontSize": 25, "color": "black"}, "encoding": {"text": {"field": "e", "type": "nominal"}}},
  {"data": {"name": "TX"}, "transform": [{"filter": "datum.x>500000"}], "mark": {"type": "text", "dx": -8, "dy": 21, "align": "center", "baseline": "middle", "font": "Liberation Sans", "fontSize": 25, "color": "black"}, "encoding": {"text": {"field": "e", "type": "nominal"}}},
  {"data": {"name": "TY"}, "transform": [{"filter": "datum.y>500 && datum.y<50000"}], "mark": {"type": "text", "dx": -47, "dy": 11, "align": "center", "baseline": "middle", "font": "Liberation Sans", "fontSize": 25, "color": "black"}, "encoding": {"text": {"field": "b", "type": "nominal"}}},
  {"data": {"name": "TY"}, "transform": [{"filter": "datum.y>50000"}], "mark": {"type": "text", "dx": -47, "dy": 43, "align": "center", "baseline": "middle", "font": "Liberation Sans", "fontSize": 25, "color": "black"}, "encoding": {"text": {"field": "b", "type": "nominal"}}},
  {"data": {"name": "TY"}, "transform": [{"filter": "datum.y<500"}], "mark": {"type": "text", "dx": -47, "dy": -8, "align": "center", "baseline": "middle", "font": "Liberation Sans", "fontSize": 25, "color": "black"}, "encoding": {"text": {"field": "b", "type": "nominal"}}},
  {"data": {"name": "TY"}, "transform": [{"filter": "datum.y>500 && datum.y<50000"}], "mark": {"type": "text", "dx": -25.5, "dy": -8, "align": "center", "baseline": "middle", "font": "Liberation Sans", "fontSize": 25, "color": "black"}, "encoding": {"text": {"field": "e", "type": "nominal"}}},
  {"data": {"name": "TY"}, "transform": [{"filter": "datum.y>50000"}], "mark": {"type": "text", "dx": -25.5, "dy": 21, "align": "center", "baseline": "middle", "font": "Liberation Sans", "fontSize": 25, "color": "black"}, "encoding": {"text": {"field": "e", "type": "nominal"}}},
  {"data": {"name": "TY"}, "transform": [{"filter": "datum.y<500"}], "mark": {"type": "text", "dx": -25.5, "dy": -26, "align": "center", "baseline": "middle", "font": "Liberation Sans", "fontSize": 25, "color": "black"}, "encoding": {"text": {"field": "e", "type": "nominal"}}}
 ]}
],
"spacing": 42, "bounds": "flush"
},
{
"vconcat": [
{"width": 378, "height": 41, "view": {"stroke": "black", "strokeWidth": 1.5},
 "data": {"values": [{"t": "After compensation"}]},
 "mark": {"type": "text", "font": "DejaVu Sans", "fontSize": 32, "color": "black", "align": "center", "baseline": "middle"},
 "encoding": {"text": {"field": "t", "type": "nominal"}}},
{"width": 397, "height": 394, "view": {"stroke": "#8c8c8c", "strokeWidth": 1},
 "encoding": {
  "x": {"field": "x", "type": "quantitative", "scale": {"type": "log", "domain": [1, 1100000], "nice": false},
   "axis": {"title": "Comp-FL1-A :: FL1-A", "grid": false, "labels": false, "domainColor": "black", "domainWidth": 1.5, "tickColor": "black",
    "tickSize": {"condition": {"test": "abs(log(datum.value)/LN10-round(log(datum.value)/LN10))<0.001", "value": 12}, "value": 5},
    "tickWidth": {"condition": {"test": "abs(log(datum.value)/LN10-round(log(datum.value)/LN10))<0.001", "value": 2}, "value": 1},
    "titleFont": "Liberation Sans", "titleFontSize": 26, "titleFontWeight": "normal", "titleColor": "black", "titlePadding": 52}},
  "y": {"field": "y", "type": "quantitative", "scale": {"type": "log", "domain": [100, 100000], "nice": false},
   "axis": {"title": "Comp-FL3-A :: FL3-A", "grid": false, "labels": false, "domainColor": "black", "domainWidth": 1.5, "tickColor": "black",
    "tickSize": {"condition": {"test": "abs(log(datum.value)/LN10-round(log(datum.value)/LN10))<0.001", "value": 10}, "value": 5},
    "tickWidth": {"condition": {"test": "abs(log(datum.value)/LN10-round(log(datum.value)/LN10))<0.001", "value": 2}, "value": 1},
    "titleFont": "Liberation Sans", "titleFontSize": 26, "titleFontWeight": "normal", "titleColor": "black", "titlePadding": 81}}
 },
 "layer": [
  {"data": {"name": "RA"}, "mark": {"type": "line", "interpolate": "cardinal", "stroke": "#333333", "strokeWidth": 1, "clip": true},
   "encoding": {"detail": {"field": "g", "type": "nominal"}, "order": {"field": "o", "type": "quantitative"}}},
  {"data": {"name": "RC"}, "mark": {"type": "line", "interpolate": "cardinal-closed", "stroke": "#333333", "strokeWidth": 1, "clip": true},
   "encoding": {"detail": {"field": "g", "type": "nominal"}, "order": {"field": "o", "type": "quantitative"}}},
  {"data": {"name": "RD"}, "mark": {"type": "square", "size": 4, "color": "#111111", "opacity": 1, "clip": true}, "encoding": {}},
  {"data": {"name": "TX"}, "transform": [{"filter": "datum.x>5 && datum.x<500000"}], "mark": {"type": "text", "dx": 8, "dy": 47, "align": "center", "baseline": "middle", "font": "Liberation Sans", "fontSize": 25, "color": "black"}, "encoding": {"text": {"field": "b", "type": "nominal"}}},
  {"data": {"name": "TX"}, "transform": [{"filter": "datum.x<5"}], "mark": {"type": "text", "dx": 25, "dy": 47, "align": "center", "baseline": "middle", "font": "Liberation Sans", "fontSize": 25, "color": "black"}, "encoding": {"text": {"field": "b", "type": "nominal"}}},
  {"data": {"name": "TX"}, "transform": [{"filter": "datum.x>500000"}], "mark": {"type": "text", "dx": -29.5, "dy": 47, "align": "center", "baseline": "middle", "font": "Liberation Sans", "fontSize": 25, "color": "black"}, "encoding": {"text": {"field": "b", "type": "nominal"}}},
  {"data": {"name": "TX"}, "transform": [{"filter": "datum.x>5 && datum.x<500000"}], "mark": {"type": "text", "dx": 29, "dy": 21, "align": "center", "baseline": "middle", "font": "Liberation Sans", "fontSize": 25, "color": "black"}, "encoding": {"text": {"field": "e", "type": "nominal"}}},
  {"data": {"name": "TX"}, "transform": [{"filter": "datum.x<5"}], "mark": {"type": "text", "dx": 46, "dy": 21, "align": "center", "baseline": "middle", "font": "Liberation Sans", "fontSize": 25, "color": "black"}, "encoding": {"text": {"field": "e", "type": "nominal"}}},
  {"data": {"name": "TX"}, "transform": [{"filter": "datum.x>500000"}], "mark": {"type": "text", "dx": -8, "dy": 21, "align": "center", "baseline": "middle", "font": "Liberation Sans", "fontSize": 25, "color": "black"}, "encoding": {"text": {"field": "e", "type": "nominal"}}},
  {"data": {"name": "TY"}, "transform": [{"filter": "datum.y>500 && datum.y<50000"}], "mark": {"type": "text", "dx": -47, "dy": 11, "align": "center", "baseline": "middle", "font": "Liberation Sans", "fontSize": 25, "color": "black"}, "encoding": {"text": {"field": "b", "type": "nominal"}}},
  {"data": {"name": "TY"}, "transform": [{"filter": "datum.y>50000"}], "mark": {"type": "text", "dx": -47, "dy": 43, "align": "center", "baseline": "middle", "font": "Liberation Sans", "fontSize": 25, "color": "black"}, "encoding": {"text": {"field": "b", "type": "nominal"}}},
  {"data": {"name": "TY"}, "transform": [{"filter": "datum.y<500"}], "mark": {"type": "text", "dx": -47, "dy": -8, "align": "center", "baseline": "middle", "font": "Liberation Sans", "fontSize": 25, "color": "black"}, "encoding": {"text": {"field": "b", "type": "nominal"}}},
  {"data": {"name": "TY"}, "transform": [{"filter": "datum.y>500 && datum.y<50000"}], "mark": {"type": "text", "dx": -25.5, "dy": -8, "align": "center", "baseline": "middle", "font": "Liberation Sans", "fontSize": 25, "color": "black"}, "encoding": {"text": {"field": "e", "type": "nominal"}}},
  {"data": {"name": "TY"}, "transform": [{"filter": "datum.y>50000"}], "mark": {"type": "text", "dx": -25.5, "dy": 21, "align": "center", "baseline": "middle", "font": "Liberation Sans", "fontSize": 25, "color": "black"}, "encoding": {"text": {"field": "e", "type": "nominal"}}},
  {"data": {"name": "TY"}, "transform": [{"filter": "datum.y<500"}], "mark": {"type": "text", "dx": -25.5, "dy": -26, "align": "center", "baseline": "middle", "font": "Liberation Sans", "fontSize": 25, "color": "black"}, "encoding": {"text": {"field": "e", "type": "nominal"}}}
 ]}
],
"spacing": 42, "bounds": "flush", "center": true
}
],
"spacing": 80
}
],
"spacing": 0
},
{
"hconcat": [
{"width": 226, "height": 1, "data": {"values": [{"s": 0}]}, "mark": {"type": "point", "opacity": 0, "size": 0}, "encoding": {}},
{"width": 950, "height": 177, "view": {"stroke": "black", "strokeWidth": 2},
 "data": {"name": "TB"},
 "encoding": {
  "x": {"field": "c", "type": "nominal", "sort": null, "scale": {"paddingInner": 0, "paddingOuter": 0}, "axis": null},
  "y": {"field": "r", "type": "nominal", "sort": null, "scale": {"paddingInner": 0, "paddingOuter": 0}, "axis": null}
 },
 "layer": [
  {"mark": {"type": "rect", "stroke": "black", "strokeWidth": 1},
   "encoding": {"fill": {"field": "k", "type": "nominal", "scale": {"domain": ["corner", "head", "val", "hi"], "range": ["#ffffff", "#b7dde8", "#ffffff", "#eeece1"]}, "legend": null}}},
  {"transform": [{"filter": "datum.k == 'head'"}],
   "mark": {"type": "text", "align": "left", "baseline": "middle", "dx": 7, "font": "Liberation Sans", "fontWeight": "bold", "fontSize": 27, "color": "black"},
   "encoding": {"x": {"field": "c", "type": "nominal", "sort": null, "bandPosition": 0}, "text": {"field": "t", "type": "nominal"}}},
  {"transform": [{"filter": "datum.k == 'val' || datum.k == 'hi'"}],
   "mark": {"type": "text", "align": "right", "baseline": "middle", "dx": -4, "font": "Liberation Sans", "fontSize": 25, "color": "black"},
   "encoding": {"x": {"field": "c", "type": "nominal", "sort": null, "bandPosition": 1}, "text": {"field": "t", "type": "nominal"}}}
 ]}
],
"spacing": 0
},
{
"vconcat": [
{
"hconcat": [
{"width": 16, "height": 1, "data": {"values": [{"s": 0}]}, "mark": {"type": "point", "opacity": 0, "size": 0}, "encoding": {}},
{
"width": 1270, "height": 158,
"data": {"name": "CAP"},
"encoding": {
 "x": {"datum": 0, "type": "quantitative", "scale": {"domain": [0, 1]}, "axis": null},
 "y": {"field": "ln", "type": "quantitative", "scale": {"domain": [-2.048, 2.968], "reverse": true, "nice": false, "zero": false}, "axis": null},
 "text": {"field": "t", "type": "nominal"}
},
"layer": [
 {"transform": [{"filter": "datum.w == 'b'"}], "mark": {"type": "text", "align": "left", "baseline": "middle", "font": "Liberation Serif", "fontSize": 30, "fontWeight": "bold", "color": "black"}},
 {"transform": [{"filter": "datum.w == 'n1'"}], "mark": {"type": "text", "align": "left", "baseline": "middle", "dx": 139, "font": "Liberation Serif", "fontSize": 30, "color": "black"}},
 {"transform": [{"filter": "datum.w == 'n'"}], "mark": {"type": "text", "align": "left", "baseline": "middle", "font": "Liberation Serif", "fontSize": 30, "color": "black"}}
]
}
],
"spacing": 0
},
{"width": 1300, "height": 1, "view": {"stroke": "black", "strokeWidth": 1}, "data": {"values": [{"s": 0}]}, "mark": {"type": "point", "opacity": 0, "size": 0}, "encoding": {}}
],
"spacing": 34
}
],
"spacing": 54
},
{"width": 1, "height": 1125, "view": {"stroke": "black", "strokeWidth": 1}, "data": {"values": [{"s": 0}]}, "mark": {"type": "point", "opacity": 0, "size": 0}, "encoding": {}}
],
"spacing": 0
}
